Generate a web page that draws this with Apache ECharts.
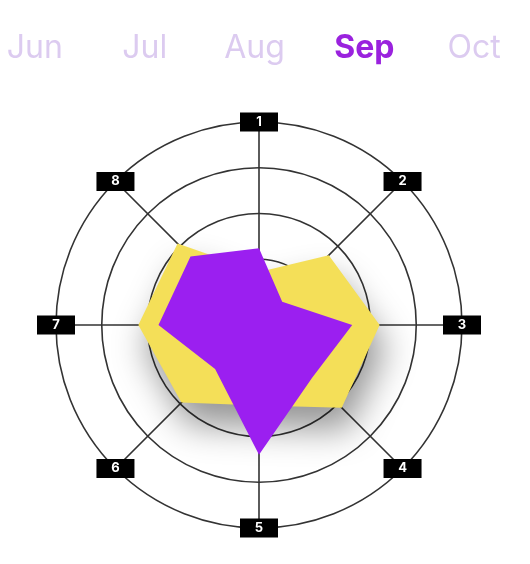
<!DOCTYPE html>
<html>
<head>
<meta charset="utf-8">
<script src="https://cdn.jsdelivr.net/npm/echarts@6/dist/echarts.min.js"></script>
<style>
html,body{margin:0;padding:0;background:#fff;}
#main{width:530px;height:564px;}
</style>
</head>
<body>
<div id="main"></div>
<script>
// ---- data ----
var months = ['Jun', 'Jul', 'Aug', 'Sep', 'Oct'];
var selectedMonth = 'Sep';
var axisLabels = ['1', '2', '3', '4', '5', '6', '7', '8'];
var axisMax = 100;
var yellowValues = [18, 43, 55, 53, 33, 49, 55, 52];
var purpleValues = [31, 7, 40, 30, 60, 23, 44, 42];

// radar places indicators counter-clockwise; reorder so 1..8 run clockwise
var order = [0, 7, 6, 5, 4, 3, 2, 1];
function reorder(arr) { return order.map(function (i) { return arr[i]; }); }

var chart = echarts.init(document.getElementById('main'));
var option = {
  backgroundColor: '#ffffff',
  animation: false,
  grid: { top: 10, height: 20, left: -20, width: 549, outerBoundsMode: 'none', containLabel: false },
  xAxis: {
    type: 'category',
    data: months,
    axisLine: { show: false },
    axisTick: { show: false },
    splitLine: { show: false },
    axisLabel: {
      interval: 0,
      hideOverlap: false,
      margin: 2,
      fontFamily: 'Inter',
      fontSize: 32,
      color: '#dccbf0',
      formatter: function (v) { return v === selectedMonth ? '{sel|' + v + '}' : v; },
      rich: {
        sel: { fontFamily: 'Inter', fontSize: 32, fontWeight: 'bold', color: '#9a22de' }
      }
    }
  },
  yAxis: { type: 'value', show: false },
  radar: {
    center: [259, 325],
    radius: [20, 203],
    startAngle: 90,
    splitNumber: 4,
    shape: 'circle',
    indicator: reorder(axisLabels).map(function (n) { return { name: n, min: 0, max: axisMax }; }),
    axisName: { show: false },
    axisLine: { lineStyle: { color: '#333333', width: 1.6 } },
    splitLine: { lineStyle: { color: '#333333', width: 1.6 } },
    splitArea: { show: false },
    axisTick: { show: false },
    axisLabel: { show: false }
  },
  polar: { center: [259, 325], radius: 203 },
  angleAxis: {
    type: 'category',
    data: axisLabels,
    boundaryGap: false,
    startAngle: 90,
    clockwise: true,
    show: false
  },
  radiusAxis: { type: 'value', min: 0, max: axisMax, show: false },
  series: [
    {
      type: 'radar',
      symbol: 'none',
      z: 2,
      data: [
        {
          value: reorder(yellowValues),
          lineStyle: { width: 0 },
          areaStyle: {
            color: '#f4df58', opacity: 1,
            shadowBlur: 35, shadowColor: 'rgba(0,0,0,0.42)',
            shadowOffsetX: 6, shadowOffsetY: 22
          }
        },
        {
          value: reorder(purpleValues),
          lineStyle: { width: 0 },
          areaStyle: { color: '#9b1ff0', opacity: 1 }
        }
      ]
    },
    {
      type: 'scatter',
      coordinateSystem: 'polar',
      z: 10,
      symbol: 'rect',
      symbolSize: [38, 19],
      itemStyle: { color: '#000000', opacity: 1 },
      emphasis: { disabled: true },
      label: {
        show: true,
        position: 'inside',
        color: '#ffffff',
        fontFamily: 'Inter',
        fontWeight: 'bold',
        fontSize: 13,
        formatter: function (p) { return p.value[1]; }
      },
      data: axisLabels.map(function (n) { return [axisMax, n]; })
    }
  ]
};
chart.setOption(option);
</script>
</body>
</html>
